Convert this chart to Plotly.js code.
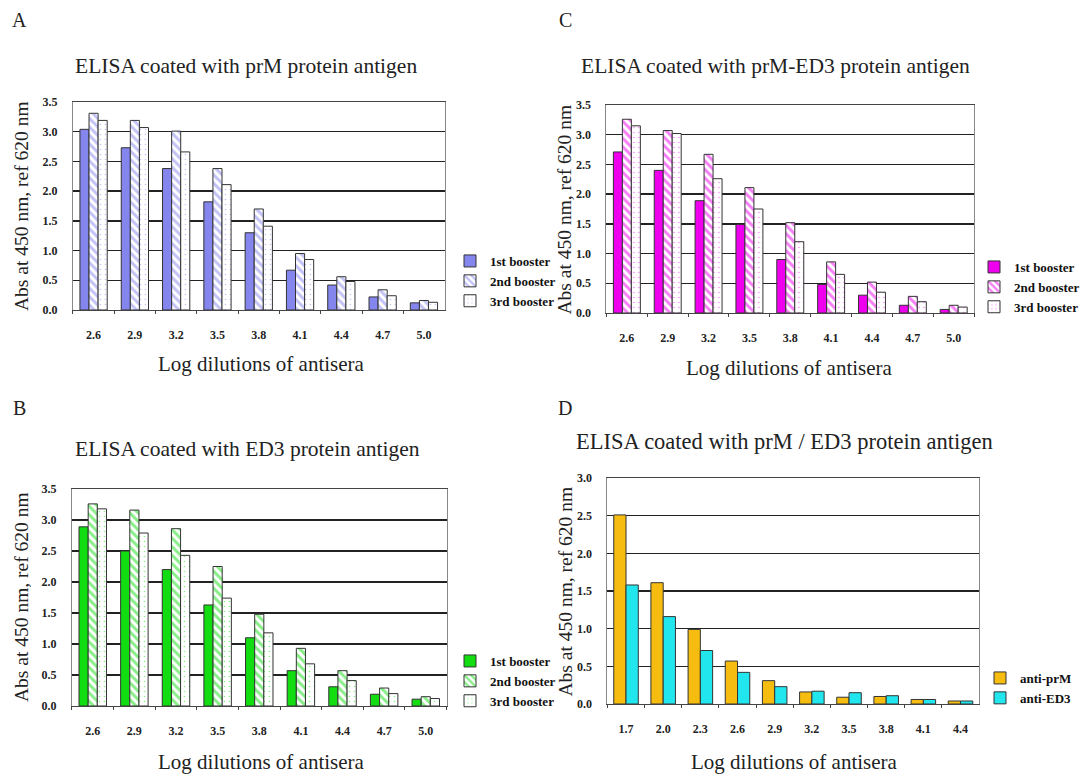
<!DOCTYPE html>
<html>
<head>
<meta charset="utf-8">
<script src="https://cdn.plot.ly/plotly-3.0.1.min.js"></script>
<style>html,body{margin:0;padding:0;background:#fff}#chart{width:1085px;height:778px}</style>
</head>
<body>
<div id="chart"></div>
<script>
// ---- data ----
const dilutionsABC = ['2.6','2.9','3.2','3.5','3.8','4.1','4.4','4.7','5.0'];
const dilutionsD = ['1.7','2.0','2.3','2.6','2.9','3.2','3.5','3.8','4.1','4.4'];

const prM_1st = [3.04, 2.73, 2.38, 1.82, 1.30, 0.67, 0.42, 0.22, 0.12];
const prM_2nd = [3.31, 3.19, 3.01, 2.38, 1.70, 0.95, 0.56, 0.34, 0.16];
const prM_3rd = [3.19, 3.07, 2.66, 2.11, 1.41, 0.85, 0.48, 0.24, 0.13];

const ED3_1st = [2.89, 2.50, 2.20, 1.63, 1.10, 0.57, 0.31, 0.19, 0.11];
const ED3_2nd = [3.26, 3.16, 2.86, 2.25, 1.48, 0.93, 0.57, 0.29, 0.15];
const ED3_3rd = [3.18, 2.79, 2.43, 1.74, 1.18, 0.68, 0.41, 0.20, 0.12];

const prMED3_1st = [2.71, 2.40, 1.89, 1.49, 0.90, 0.48, 0.30, 0.13, 0.06];
const prMED3_2nd = [3.26, 3.07, 2.67, 2.11, 1.52, 0.86, 0.52, 0.28, 0.13];
const prMED3_3rd = [3.15, 3.02, 2.26, 1.75, 1.20, 0.65, 0.35, 0.19, 0.10];

const antiPrM = [2.51, 1.61, 0.99, 0.57, 0.31, 0.16, 0.09, 0.10, 0.06, 0.04];
const antiED3 = [1.58, 1.16, 0.71, 0.42, 0.23, 0.17, 0.15, 0.11, 0.06, 0.04];

const boosterNames = ['1st booster', '2nd booster', '3rd booster'];
const dNames = ['anti-prM', 'anti-ED3'];

// ---- layout helpers ----
const W = 1085, H = 778;
const px = v => v / W;
const py = v => 1 - v / H;
const serif = 'Liberation Serif, Times New Roman, serif';
const edge = '#333';

function boosterTraces(vals, color, xa, ya, legend) {
  return [
    {type:'bar', x: dilutionsABC, y: vals[0], name: boosterNames[0], xaxis: xa, yaxis: ya, legend: legend,
     marker:{color: color, line:{color: edge, width: 1}}},
    {type:'bar', x: dilutionsABC, y: vals[1], name: boosterNames[1], xaxis: xa, yaxis: ya, legend: legend,
     marker:{color:'#ffffff', line:{color: edge, width: 1},
       pattern:{shape:'\\', fgcolor: color, bgcolor:'#ffffff', size: 6, solidity: 0.5, fillmode:'overlay'}}},
    {type:'bar', x: dilutionsABC, y: vals[2], name: boosterNames[2], xaxis: xa, yaxis: ya, legend: legend,
     marker:{color:'#ffffff', line:{color: edge, width: 1},
       pattern:{shape:'.', fgcolor: color, bgcolor:'#ffffff', size: 5, solidity: 0.08, fillmode:'overlay'}}}
  ];
}

const traces = [
  ...boosterTraces([prM_1st, prM_2nd, prM_3rd], '#8585ee', 'x', 'y', 'legend'),
  ...boosterTraces([prMED3_1st, prMED3_2nd, prMED3_3rd], '#ee00ee', 'x2', 'y2', 'legend2'),
  ...boosterTraces([ED3_1st, ED3_2nd, ED3_3rd], '#11dd11', 'x3', 'y3', 'legend3'),
  {type:'bar', x: dilutionsD, y: antiPrM, name: dNames[0], xaxis:'x4', yaxis:'y4', legend:'legend4',
   marker:{color:'#f6bd10', line:{color: edge, width: 1}}},
  {type:'bar', x: dilutionsD, y: antiED3, name: dNames[1], xaxis:'x4', yaxis:'y4', legend:'legend4',
   marker:{color:'#22e6ee', line:{color: edge, width: 1}}}
];

const tickFont = {family: serif, size: 12, color:'#222', weight: 'bold'};

function xax(dom, anchor, cats) {
  return {domain: dom, anchor: anchor, type:'category', showgrid:false, zeroline:false,
    categoryorder:'array', categoryarray: cats,
    showline:true, linecolor:'#444', linewidth:1.2, mirror:true,
    ticks:'outside', tickson:'boundaries', ticklen:3, tickcolor:'#444',
    tickfont: tickFont, ticklabelstandoff: 13, fixedrange:true};
}
function yax(dom, anchor, maxv) {
  return {domain: dom, anchor: anchor, range:[0, maxv], dtick:0.5, tickformat:'.1f',
    showgrid:true, gridcolor:'#222', gridwidth:1.3, zeroline:false,
    showline:true, linecolor:'#888', linewidth:1, mirror:true,
    ticks:'', tickfont: tickFont, ticklabelstandoff: 12, fixedrange:true};
}

const legendFont = {family: serif, size: 13, color:'#111', weight: 'bold'};
function leg(x, y) {
  return {x: px(x), y: py(y), xanchor:'left', yanchor:'top', xref:'paper', yref:'paper',
    font: legendFont, bgcolor:'rgba(0,0,0,0)', itemwidth: 30, tracegroupgap: 0};
}

const titleFont = {family: serif, size: 21.5, color:'#222'};
const titleFontD = {family: serif, size: 22.5, color:'#222'};
const xTitleFont = {family: serif, size: 21, color:'#222'};
const yTitleFont = {family: serif, size: 19.5, color:'#222'};
const letterFont = {family: serif, size: 20, color:'#222'};

function ann(text, x, y, font, extra) {
  return Object.assign({text: text, x: px(x), y: py(y), xref:'paper', yref:'paper',
    showarrow:false, font: font, xanchor:'center', yanchor:'middle'}, extra || {});
}

const layout = {
  width: W, height: H,
  margin: {l:0, r:0, t:0, b:0},
  paper_bgcolor:'#ffffff', plot_bgcolor:'#ffffff',
  barmode:'group', bargap: 0.34, bargroupgap: 0,
  showlegend: true,
  xaxis:  xax([px(73), px(445)], 'y', dilutionsABC),
  yaxis:  yax([py(310), py(102)], 'x', 3.5),
  xaxis2: xax([px(607), px(975)], 'y2', dilutionsABC),
  yaxis2: yax([py(313), py(105)], 'x2', 3.5),
  xaxis3: xax([px(72), px(447)], 'y3', dilutionsABC),
  yaxis3: yax([py(706), py(489)], 'x3', 3.5),
  xaxis4: xax([px(608), px(980)], 'y4', dilutionsD),
  yaxis4: yax([py(704), py(478)], 'x4', 3.0),
  legend:  leg(450, 246),
  legend2: leg(975, 252),
  legend3: leg(450, 646),
  legend4: leg(980, 663),
  annotations: [
    ann('A', 20, 20, letterFont),
    ann('C', 566, 20, letterFont),
    ann('B', 20, 408, letterFont),
    ann('D', 566, 408, letterFont),
    ann('ELISA coated with prM protein antigen', 246, 66, titleFont),
    ann('ELISA coated with prM-ED3 protein antigen', 776, 66, titleFont),
    ann('ELISA coated with ED3 protein antigen', 248, 449, titleFont),
    ann('ELISA coated with prM / ED3 protein antigen', 785, 441, titleFontD),
    ann('Abs at 450 nm, ref 620 nm', 21, 206, yTitleFont, {textangle:-90}),
    ann('Abs at 450 nm, ref 620 nm', 566, 209, yTitleFont, {textangle:-90}),
    ann('Abs at 450 nm, ref 620 nm', 21, 597, yTitleFont, {textangle:-90}),
    ann('Abs at 450 nm, ref 620 nm', 566, 591, yTitleFont, {textangle:-90}),
    ann('Log dilutions of antisera', 262, 364, xTitleFont),
    ann('Log dilutions of antisera', 790, 368, xTitleFont),
    ann('Log dilutions of antisera', 262, 762, xTitleFont),
    ann('Log dilutions of antisera', 795, 762, xTitleFont)
  ]
};

Plotly.newPlot('chart', traces, layout, {displayModeBar:false, staticPlot:true});
</script>
</body>
</html>
